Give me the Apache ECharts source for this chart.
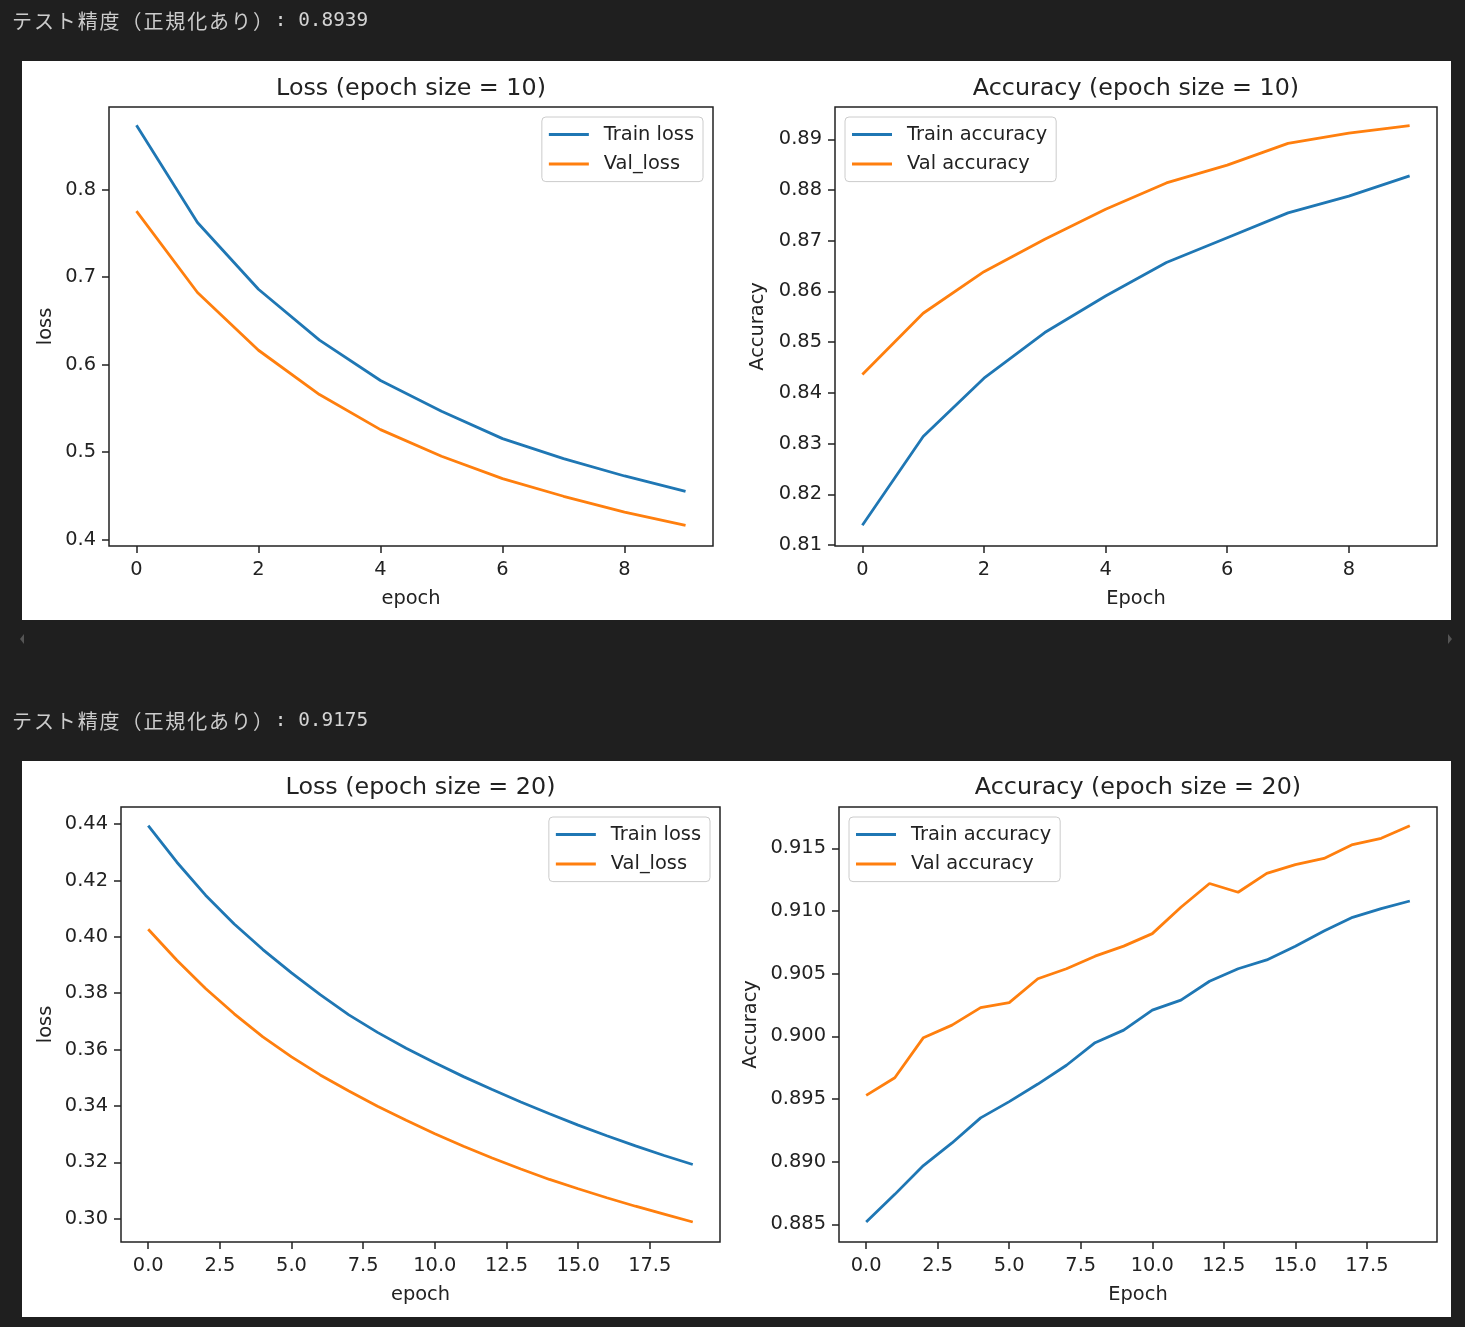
<!DOCTYPE html>
<html>
<head>
<meta charset="utf-8">
<script src="https://cdn.jsdelivr.net/npm/echarts@6/dist/echarts.min.js"></script>
<style>
html,body{margin:0;padding:0;background:#1f1f1f;}
#c{width:1465px;height:1327px;}
</style>
</head>
<body>
<div id="c"></div>
<script>
// ---- data ----
const epochs10 = [0, 1, 2, 3, 4, 5, 6, 7, 8, 9];
const trainLoss10 = [0.8735, 0.7623, 0.6860, 0.6278, 0.5817, 0.5466, 0.5153, 0.4925, 0.4726, 0.4551];
const valLoss10 = [0.7752, 0.6823, 0.6163, 0.5657, 0.5256, 0.4951, 0.4696, 0.4494, 0.4314, 0.4162];
const trainAcc10 = [0.8139, 0.8314, 0.8429, 0.8519, 0.8591, 0.8657, 0.8706, 0.8755, 0.8788, 0.8828];
const valAcc10 = [0.8436, 0.8557, 0.8639, 0.8703, 0.8762, 0.8814, 0.8849, 0.8892, 0.8912, 0.8927];

const epochs20 = [0, 1, 2, 3, 4, 5, 6, 7, 8, 9, 10, 11, 12, 13, 14, 15, 16, 17, 18, 19];
const trainLoss20 = [0.4395, 0.4265, 0.4148, 0.4046, 0.3955, 0.3872, 0.3795, 0.3723, 0.3661, 0.3605,
                     0.3553, 0.3504, 0.3458, 0.3414, 0.3372, 0.3332, 0.3294, 0.3258, 0.3224, 0.3192];
const valLoss20 = [0.4027, 0.3917, 0.3817, 0.3727, 0.3645, 0.3574, 0.3510, 0.3453, 0.3399, 0.3349,
                   0.3301, 0.3257, 0.3215, 0.3176, 0.3139, 0.3106, 0.3074, 0.3044, 0.3016, 0.2988];
const trainAcc20 = [0.8852, 0.8874, 0.8897, 0.8915, 0.8935, 0.8948, 0.8962, 0.8977, 0.8995, 0.9005,
                    0.9021, 0.9029, 0.9044, 0.9054, 0.9061, 0.9072, 0.9084, 0.9095, 0.9102, 0.9108];
const valAcc20 = [0.8953, 0.8967, 0.8999, 0.9009, 0.9023, 0.9027, 0.9046, 0.9054, 0.9064, 0.9072,
                  0.9082, 0.9103, 0.9122, 0.9115, 0.9130, 0.9137, 0.9142, 0.9153, 0.9158, 0.9168];

const xTicks10 = [0, 2, 4, 6, 8];
const xTicks20 = [0, 2.5, 5, 7.5, 10, 12.5, 15, 17.5];
const yTicksLoss10 = [0.4, 0.5, 0.6, 0.7, 0.8];
const yTicksAcc10 = [0.81, 0.82, 0.83, 0.84, 0.85, 0.86, 0.87, 0.88, 0.89];
const yTicksLoss20 = [0.30, 0.32, 0.34, 0.36, 0.38, 0.40, 0.42, 0.44];
const yTicksAcc20 = [0.885, 0.890, 0.895, 0.900, 0.905, 0.910, 0.915];

const noteLabel = 'テスト精度（正規化あり）';
const testAcc = ['0.8939', '0.9175'];

const titles = ['Loss (epoch size = 10)', 'Accuracy (epoch size = 10)', 'Loss (epoch size = 20)', 'Accuracy (epoch size = 20)'];

// ---- styling ----
const FONT = "'DejaVu Sans', sans-serif";
const INK = '#222222';
const BLUE = '#1f77b4';
const ORANGE = '#ff7f0e';
const FS = 19.4;

const grids = [
  {left: 109, top: 107, width: 604, height: 439},
  {left: 835, top: 107, width: 602, height: 439},
  {left: 121, top: 807, width: 599, height: 435},
  {left: 839, top: 807, width: 598, height: 435}
];

function pairs(xs, ys) { return xs.map((x, i) => [x, ys[i]]); }

function xAxis(idx, min, max, ticks, dec, name) {
  return {
    type: 'value', gridIndex: idx, min: min, max: max,
    name: name, nameLocation: 'middle', nameGap: 43,
    nameTextStyle: {fontFamily: FONT, fontSize: FS, color: INK},
    axisLine: {show: false, onZero: false},
    splitLine: {show: false},
    axisTick: {show: true, customValues: ticks, length: 7, lineStyle: {color: INK, width: 1.5}},
    axisLabel: {customValues: ticks, margin: 14, fontFamily: FONT, fontSize: FS, color: INK,
      formatter: v => Number(v).toFixed(dec)}
  };
}
function yAxis(idx, min, max, ticks, dec, name, gap) {
  return {
    type: 'value', gridIndex: idx, min: min, max: max, scale: true,
    name: name, nameLocation: 'middle', nameGap: gap,
    nameTextStyle: {fontFamily: FONT, fontSize: FS, color: INK},
    axisLine: {show: false, onZero: false},
    splitLine: {show: false},
    axisTick: {show: true, customValues: ticks, length: 7, lineStyle: {color: INK, width: 1.5}},
    axisLabel: {customValues: ticks, margin: 13, fontFamily: FONT, fontSize: FS, color: INK,
      padding: [3, 0, 0, 0], formatter: v => Number(v).toFixed(dec)}
  };
}
function line(name, idx, data, color) {
  return {
    type: 'line', name: name, xAxisIndex: idx, yAxisIndex: idx, data: data,
    symbol: 'none', showSymbol: false, smooth: false, animation: false,
    lineStyle: {color: color, width: 2.8}, itemStyle: {color: color}, z: 3
  };
}
function legend(names, pos) {
  return Object.assign({
    orient: 'vertical', data: names, icon: 'rect', itemWidth: 40, itemHeight: 3, itemGap: 10.6,
    padding: [8, 9, 8, 7], borderColor: '#cccccc', borderWidth: 1, borderRadius: 4,
    backgroundColor: 'rgba(255,255,255,0.8)', selectedMode: false, z: 10,
    textStyle: {fontFamily: FONT, fontSize: FS, color: INK, padding: [1, 0, 0, 10]}
  }, pos);
}
function noteText(acc) {
  return Array.from(noteLabel).map(c => '{w|' + c + '}').join('') + '{m|: ' + acc + '}';
}
const noteRich = {
  w: {width: 21.9, fontFamily: "'Noto Sans CJK JP', sans-serif", fontSize: 20, fill: '#cccccc', color: '#cccccc'},
  m: {fontFamily: "'DejaVu Sans Mono', monospace", fontSize: 19.4, fill: '#d4d4d4', color: '#d4d4d4'}
};

const option = {
  backgroundColor: '#1f1f1f',
  animation: false,
  graphic: {elements: [
    {type: 'rect', z: -10, silent: true, shape: {x: 22, y: 61, width: 1429, height: 559}, style: {fill: '#ffffff'}},
    {type: 'rect', z: -10, silent: true, shape: {x: 22, y: 761, width: 1429, height: 556}, style: {fill: '#ffffff'}},
    {type: 'text', x: 12, y: 21, silent: true, style: {text: noteText(testAcc[0]), rich: noteRich, verticalAlign: 'middle', fill: '#cccccc'}},
    {type: 'text', x: 12, y: 721, silent: true, style: {text: noteText(testAcc[1]), rich: noteRich, verticalAlign: 'middle', fill: '#cccccc'}},
    {type: 'polygon', silent: true, shape: {points: [[24, 634], [24, 644], [20, 639]]}, style: {fill: '#555555'}},
    {type: 'polygon', silent: true, shape: {points: [[1448, 634], [1448, 644], [1452, 639]]}, style: {fill: '#555555'}}
  ]},
  title: [
    {text: titles[0], left: 411, top: 89},
    {text: titles[1], left: 1136, top: 89},
    {text: titles[2], left: 420.5, top: 788},
    {text: titles[3], left: 1138, top: 788}
  ].map(t => Object.assign(t, {textAlign: 'center', textVerticalAlign: 'middle', padding: 0,
    textStyle: {fontFamily: FONT, fontSize: 23.8, fontWeight: 'normal', color: INK}})),
  grid: grids.map(g => Object.assign({show: true, borderColor: INK, borderWidth: 1.5,
    backgroundColor: '#ffffff', containLabel: false, outerBoundsMode: 'none'}, g)),
  xAxis: [
    xAxis(0, -0.45, 9.45, xTicks10, 0, 'epoch'),
    xAxis(1, -0.45, 9.45, xTicks10, 0, 'Epoch'),
    xAxis(2, -0.95, 19.95, xTicks20, 1, 'epoch'),
    xAxis(3, -0.95, 19.95, xTicks20, 1, 'Epoch')
  ],
  yAxis: [
    yAxis(0, 0.39257, 0.8943, yTicksLoss10, 1, 'loss', 54),
    yAxis(1, 0.8098, 0.89637, yTicksAcc10, 2, 'Accuracy', 68),
    yAxis(2, 0.2917, 0.4461, yTicksLoss20, 2, 'loss', 66),
    yAxis(3, 0.8836, 0.9183, yTicksAcc20, 3, 'Accuracy', 79)
  ],
  legend: [
    legend(['Train loss', 'Val_loss'], {right: 762, top: 117}),
    legend(['Train accuracy', 'Val accuracy'], {left: 845, top: 117}),
    legend(['Train loss', 'Val_loss'], {right: 755, top: 817}),
    legend(['Train accuracy', 'Val accuracy'], {left: 849, top: 817})
  ],
  series: [
    line('Train loss', 0, pairs(epochs10, trainLoss10), BLUE),
    line('Val_loss', 0, pairs(epochs10, valLoss10), ORANGE),
    line('Train accuracy', 1, pairs(epochs10, trainAcc10), BLUE),
    line('Val accuracy', 1, pairs(epochs10, valAcc10), ORANGE),
    line('Train loss', 2, pairs(epochs20, trainLoss20), BLUE),
    line('Val_loss', 2, pairs(epochs20, valLoss20), ORANGE),
    line('Train accuracy', 3, pairs(epochs20, trainAcc20), BLUE),
    line('Val accuracy', 3, pairs(epochs20, valAcc20), ORANGE)
  ]
};

const chart = echarts.init(document.getElementById('c'), null, {renderer: 'canvas'});
chart.setOption(option);
</script>
</body>
</html>
